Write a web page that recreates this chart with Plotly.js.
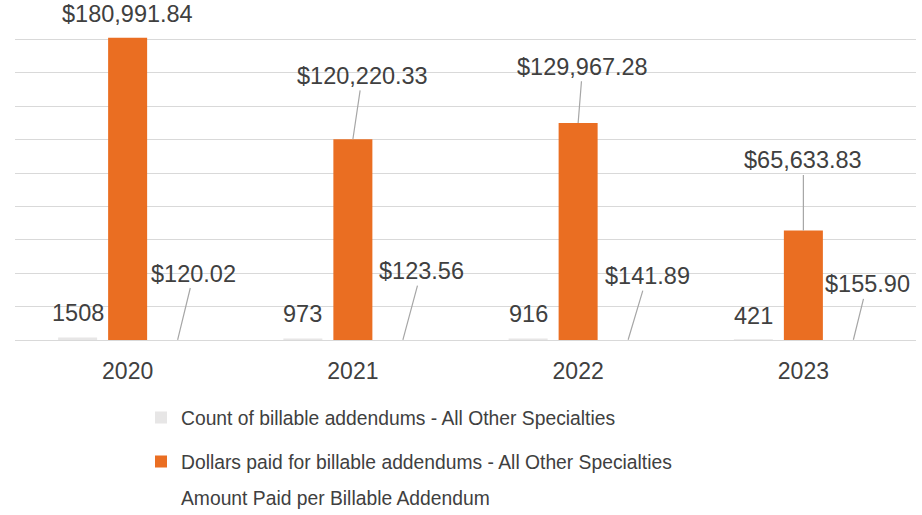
<!DOCTYPE html>
<html>
<head>
<meta charset="utf-8">
<script src="https://cdn.plot.ly/plotly-3.0.1.min.js"></script>
<style>
html,body{margin:0;padding:0;background:#fff;}
#chart{width:922px;height:515px;}
</style>
</head>
<body>
<div id="chart"></div>
<script>
// ---- data ----
const years = ["2020", "2021", "2022", "2023"];
const countBillable = [1508, 973, 916, 421];
const dollarsPaid = [180991.84, 120220.33, 129967.28, 65633.83];
const amountPerAddendum = [120.02, 123.56, 141.89, 155.90];
const seriesNames = [
  "Count of billable addendums - All Other Specialties",
  "Dollars paid for billable addendums - All Other Specialties",
  "Amount Paid per Billable Addendum"
];

// ---- style ----
const ORANGE = "#EA6E22";
const LIGHTGRAY = "#E7E6E6";
const TEXT = "#404040";
const LEADER = "#A6A6A6";
const FONT = "Liberation Sans, Arial, sans-serif";
const BARGAP = 0.334;
const slot = (1 - BARGAP) / 3;

// label offsets in pixels (layout only)
const countOff = [[0, -24], [0, -24], [0, -24], [0, -23]];
const dollarOff = [[0, -23.5], [9.4, -63.4], [4.5, -56.2], [0, -70]];
const amountOff = [[16.2, -66.3], [18.5, -68.6], [19, -63.6], [13.7, -55.3]];
const dollarArrow = [false, true, true, true];

function money(v) {
  return "$" + v.toLocaleString("en-US", {minimumFractionDigits: 2, maximumFractionDigits: 2});
}

const traces = [
  {type: "bar", x: years, y: countBillable, name: seriesNames[0],
   marker: {color: LIGHTGRAY}, legend: "legend", hoverinfo: "skip"},
  {type: "bar", x: years, y: dollarsPaid, name: seriesNames[1],
   marker: {color: ORANGE}, legend: "legend2", hoverinfo: "skip"},
  {type: "bar", x: years, y: amountPerAddendum, name: seriesNames[2],
   marker: {color: "rgba(0,0,0,0)"}, legend: "legend3", hoverinfo: "skip"}
];

const annotations = [];
function addLabel(xi, yv, text, off, arrow) {
  annotations.push({
    x: xi, y: yv, xref: "x", yref: "y", text: text,
    showarrow: true, arrowhead: 0, arrowwidth: 1.2, standoff: 0, startstandoff: 0,
    arrowcolor: arrow ? LEADER : "rgba(0,0,0,0)",
    ax: off[0], ay: off[1], axref: "pixel", ayref: "pixel",
    font: {family: FONT, size: 23.5, color: TEXT}
  });
}
years.forEach((yr, i) => {
  addLabel(i - slot, countBillable[i], String(countBillable[i]), countOff[i], false);
  addLabel(i, dollarsPaid[i], money(dollarsPaid[i]), dollarOff[i], dollarArrow[i]);
  addLabel(i + slot, amountPerAddendum[i], money(amountPerAddendum[i]), amountOff[i], true);
});

function legendAt(ycenter) {
  return {
    xref: "container", yref: "container", x: 141 / 922, y: 1 - ycenter / 515,
    xanchor: "left", yanchor: "middle", bgcolor: "rgba(0,0,0,0)",
    font: {family: FONT, size: 19.3, color: TEXT}, itemclick: false
  };
}

const layout = {
  width: 922, height: 515,
  margin: {l: 15, r: 6, t: 6, b: 175, pad: 0, autoexpand: false},
  paper_bgcolor: "#fff", plot_bgcolor: "#fff",
  barmode: "group", bargap: BARGAP, bargroupgap: 0.22,
  font: {family: FONT, color: TEXT},
  showlegend: true,
  legend: legendAt(418),
  legend2: legendAt(462),
  legend3: legendAt(498),
  xaxis: {
    type: "category", showgrid: false, zeroline: false, showline: false,
    ticks: "", tickfont: {family: FONT, size: 23, color: TEXT}, tickangle: 0,
    ticklabelstandoff: 15, automargin: false, fixedrange: true
  },
  yaxis: {
    range: [0, 200000], dtick: 20000, tick0: 0, showticklabels: false,
    showgrid: true, gridcolor: "#D9D9D9", gridwidth: 1,
    zeroline: true, zerolinecolor: "#D9D9D9", zerolinewidth: 1,
    showline: false, ticks: "", automargin: false, fixedrange: true
  },
  annotations: annotations
};

Plotly.newPlot("chart", traces, layout, {displayModeBar: false, staticPlot: true});
</script>
</body>
</html>
